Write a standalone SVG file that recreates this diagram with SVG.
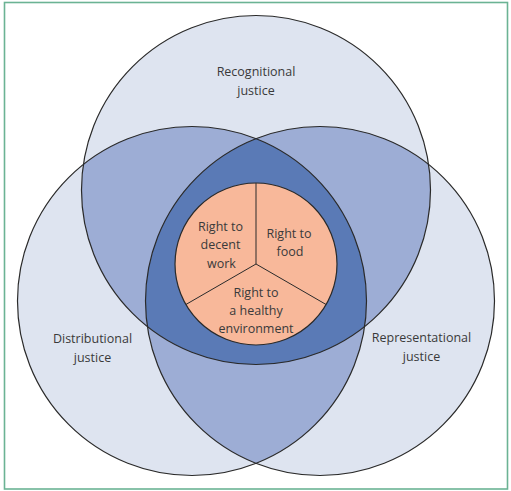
<svg xmlns="http://www.w3.org/2000/svg" width="511" height="491" viewBox="0 0 511 491">
<style>
.bg{fill:#ffffff}
.frame{fill:none;stroke:#6bb394;stroke-width:1.6}
.light{fill:#dee4f0}
.mid{fill:#9dadd5}
.dark{fill:#5a7ab6}
.ring{fill:none;stroke:#2a2a2a;stroke-width:1.2}
.core{fill:#f8b89a;stroke:#2a2a2a;stroke-width:1.2}
.div{stroke:#2a2a2a;stroke-width:1}
text{font-family:"Open Sans","Noto Sans","Liberation Sans",sans-serif;font-size:12.5px;fill:#3a3a3a;text-anchor:middle}
</style>
<defs>
<clipPath id="cTop"><circle cx="256" cy="190" r="174.5"/></clipPath>
<clipPath id="cLeft"><circle cx="192" cy="301" r="174.5"/></clipPath>
<clipPath id="cRight"><circle cx="320" cy="301" r="174.5"/></clipPath>
</defs>
<rect class="bg" x="0" y="0" width="511" height="491"/>
<rect class="frame" x="4.5" y="2.5" width="503" height="486.5"/>
<g id="circles">
<circle class="light" cx="256" cy="190" r="174.5"/>
<circle class="light" cx="192" cy="301" r="174.5"/>
<circle class="light" cx="320" cy="301" r="174.5"/>
<g clip-path="url(#cTop)">
<circle class="mid" cx="192" cy="301" r="174.5"/>
<circle class="mid" cx="320" cy="301" r="174.5"/>
</g>
<g clip-path="url(#cLeft)">
<circle class="mid" cx="320" cy="301" r="174.5"/>
</g>
<g clip-path="url(#cTop)"><g clip-path="url(#cLeft)">
<circle class="dark" cx="320" cy="301" r="174.5"/>
</g></g>
</g>
<g id="recognitional">
<circle class="ring" cx="256" cy="190" r="174.5"/>
<text x="256" y="76">Recognitional</text>
<text x="256" y="94.5">justice</text>
</g>
<g id="distributional">
<circle class="ring" cx="192" cy="301" r="174.5"/>
<text x="92.5" y="343">Distributional</text>
<text x="92.5" y="361.5">justice</text>
</g>
<g id="representational">
<circle class="ring" cx="320" cy="301" r="174.5"/>
<text x="421.5" y="342">Representational</text>
<text x="421.5" y="360.5">justice</text>
</g>
<g id="rights">
<circle class="core" cx="256" cy="264" r="81"/>
<line class="div" x1="256" y1="264" x2="256" y2="183"/>
<line class="div" x1="256" y1="264" x2="185.9" y2="304.5"/>
<line class="div" x1="256" y1="264" x2="326.1" y2="304.5"/>
</g>
<g id="work">
<text x="220.5" y="231">Right to</text>
<text x="220.5" y="249.3">decent</text>
<text x="221.5" y="267.6">work</text>
</g>
<g id="food">
<text x="289" y="237.5">Right to</text>
<text x="290" y="255.8">food</text>
</g>
<g id="environment">
<text x="256" y="296.5">Right to</text>
<text x="256" y="314.8">a healthy</text>
<text x="256" y="333.1">environment</text>
</g>
</svg>
